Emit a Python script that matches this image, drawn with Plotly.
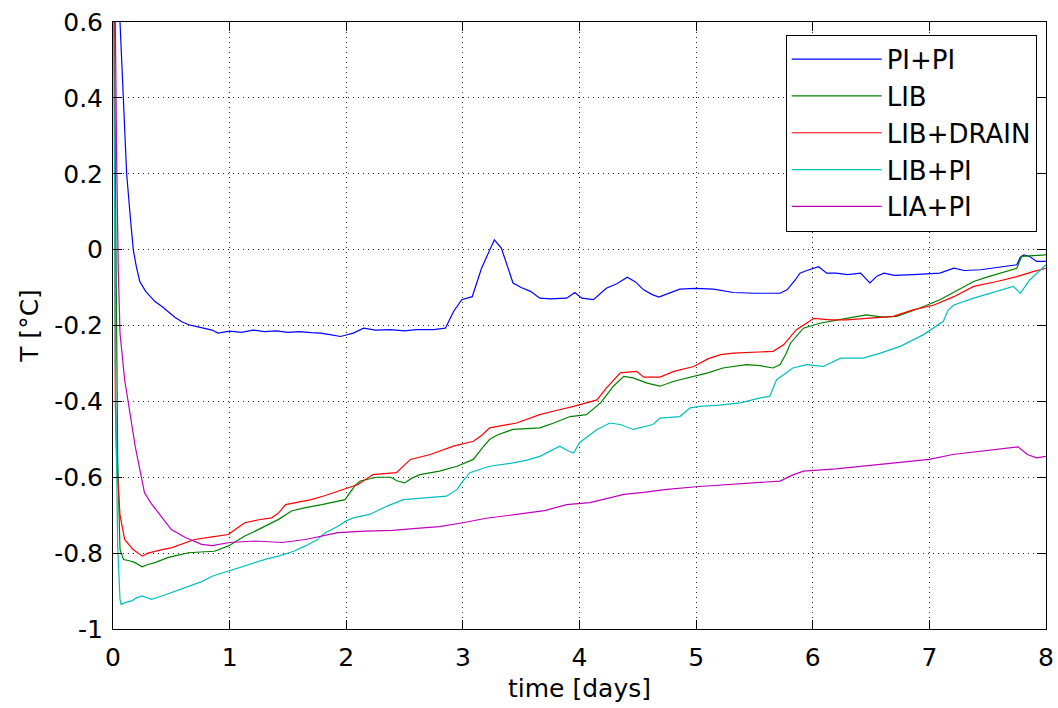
import plotly.graph_objects as go

# (time [days], T [degC])
PI_PI = [(0, 1.2), (0.03, 0.85), (0.06, 0.60), (0.088, 0.40), (0.117, 0.20), (0.15, 0.08), (0.174, 0.0),
         (0.2, -0.045), (0.23, -0.084), (0.28, -0.11), (0.32, -0.125), (0.36, -0.137), (0.42, -0.15),
         (0.47, -0.163), (0.53, -0.178), (0.59, -0.19), (0.65, -0.198), (0.72, -0.203), (0.79, -0.207),
         (0.85, -0.212), (0.90, -0.22), (1.0, -0.215), (1.1, -0.218), (1.2, -0.212), (1.3, -0.216),
         (1.4, -0.214), (1.5, -0.218), (1.6, -0.216), (1.7, -0.219), (1.78, -0.22), (1.86, -0.224),
         (1.95, -0.229), (2.0, -0.225), (2.06, -0.22), (2.15, -0.207), (2.25, -0.212), (2.38, -0.211),
         (2.5, -0.214), (2.6, -0.211), (2.75, -0.211), (2.85, -0.207), (2.92, -0.163), (2.99, -0.132),
         (3.08, -0.124), (3.16, -0.049), (3.22, -0.01), (3.27, 0.026), (3.33, 0.004), (3.38, -0.04),
         (3.43, -0.088), (3.5, -0.10), (3.58, -0.11), (3.66, -0.128), (3.75, -0.13), (3.89, -0.128),
         (3.96, -0.113), (4.02, -0.128), (4.12, -0.132), (4.23, -0.102), (4.32, -0.09), (4.41, -0.073),
         (4.48, -0.085), (4.55, -0.106), (4.62, -0.118), (4.68, -0.125), (4.76, -0.115), (4.86, -0.104),
         (5.0, -0.102), (5.15, -0.104), (5.32, -0.113), (5.5, -0.115), (5.72, -0.115), (5.78, -0.106),
         (5.85, -0.08), (5.89, -0.062), (5.95, -0.055), (6.05, -0.045), (6.12, -0.062), (6.2, -0.062),
         (6.3, -0.066), (6.41, -0.062), (6.49, -0.088), (6.55, -0.07), (6.61, -0.062), (6.7, -0.068),
         (6.86, -0.066), (7.0, -0.064), (7.09, -0.062), (7.21, -0.049), (7.3, -0.055), (7.44, -0.053),
         (7.61, -0.045), (7.75, -0.04), (7.78, -0.02), (7.81, -0.014), (7.86, -0.018), (7.92, -0.031),
         (8.0, -0.031)]

LIB = [(0, 1.0), (0.015, 0.45), (0.025, 0.04), (0.04, -0.55), (0.06, -0.79), (0.09, -0.817), (0.14, -0.82),
       (0.19, -0.825), (0.25, -0.836), (0.30, -0.83), (0.36, -0.825), (0.42, -0.818), (0.47, -0.812),
       (0.55, -0.806), (0.65, -0.799), (0.75, -0.797), (0.87, -0.795), (0.99, -0.781), (1.06, -0.768),
       (1.13, -0.755), (1.2, -0.745), (1.28, -0.733), (1.35, -0.722), (1.42, -0.711), (1.53, -0.689),
       (1.65, -0.68), (1.79, -0.672), (1.9, -0.665), (1.99, -0.659), (2.03, -0.641), (2.08, -0.62),
       (2.12, -0.61), (2.26, -0.60), (2.38, -0.60), (2.44, -0.61), (2.5, -0.615), (2.56, -0.603),
       (2.63, -0.593), (2.8, -0.584), (2.95, -0.571), (3.09, -0.553), (3.16, -0.525), (3.23, -0.50),
       (3.3, -0.488), (3.43, -0.474), (3.55, -0.472), (3.66, -0.47), (3.78, -0.457), (3.92, -0.44),
       (4.06, -0.435), (4.12, -0.42), (4.18, -0.404), (4.24, -0.38), (4.29, -0.36), (4.38, -0.334),
       (4.46, -0.338), (4.58, -0.352), (4.69, -0.36), (4.81, -0.347), (4.98, -0.334), (5.1, -0.325),
       (5.23, -0.312), (5.43, -0.303), (5.55, -0.306), (5.66, -0.312), (5.72, -0.303), (5.77, -0.275),
       (5.81, -0.246), (5.92, -0.207), (6.06, -0.194), (6.18, -0.188), (6.29, -0.181), (6.46, -0.172),
       (6.6, -0.178), (6.72, -0.176), (6.82, -0.165), (6.92, -0.154), (7.09, -0.132), (7.24, -0.106),
       (7.38, -0.084), (7.5, -0.072), (7.61, -0.062), (7.75, -0.049), (7.79, -0.018), (7.89, -0.017),
       (8.0, -0.014)]

LIB_DRAIN = [(0, 1.0), (0.012, 0.6), (0.02, -0.4), (0.03, -0.545), (0.06, -0.70), (0.10, -0.764),
             (0.17, -0.79), (0.25, -0.808), (0.30, -0.80), (0.36, -0.795), (0.43, -0.79), (0.50, -0.786),
             (0.6, -0.775), (0.70, -0.764), (0.85, -0.757), (0.99, -0.751), (1.06, -0.735), (1.13, -0.72),
             (1.25, -0.712), (1.36, -0.707), (1.42, -0.694), (1.48, -0.672), (1.6, -0.665), (1.70, -0.659),
             (1.82, -0.648), (1.93, -0.637), (2.03, -0.628), (2.1, -0.619), (2.23, -0.593), (2.35, -0.59),
             (2.43, -0.588), (2.55, -0.553), (2.72, -0.54), (2.92, -0.518), (3.09, -0.505), (3.16, -0.49),
             (3.23, -0.47), (3.46, -0.457), (3.66, -0.435), (3.80, -0.424), (3.95, -0.413), (4.15, -0.396),
             (4.23, -0.365), (4.35, -0.325), (4.49, -0.321), (4.55, -0.336), (4.69, -0.336), (4.81, -0.321),
             (4.98, -0.308), (5.1, -0.288), (5.21, -0.277), (5.32, -0.273), (5.5, -0.27), (5.66, -0.268),
             (5.75, -0.251), (5.86, -0.211), (6.01, -0.181), (6.15, -0.185), (6.29, -0.185), (6.46, -0.181),
             (6.69, -0.176), (6.86, -0.159), (7.04, -0.146), (7.21, -0.124), (7.38, -0.097), (7.58, -0.084),
             (7.75, -0.071), (7.89, -0.058), (8.0, -0.049)]

LIB_PI = [(0, 1.0), (0.01, 0.45), (0.02, -0.3), (0.04, -0.78), (0.06, -0.922), (0.07, -0.935), (0.11, -0.93),
          (0.16, -0.926), (0.2, -0.918), (0.25, -0.913), (0.33, -0.922), (0.42, -0.913), (0.50, -0.904),
          (0.58, -0.896), (0.67, -0.887), (0.76, -0.875), (0.85, -0.861), (0.99, -0.847), (1.1, -0.836),
          (1.22, -0.825), (1.32, -0.815), (1.42, -0.808), (1.55, -0.795), (1.65, -0.781), (1.75, -0.765),
          (1.82, -0.746), (1.93, -0.729), (2.0, -0.715), (2.06, -0.707), (2.2, -0.698), (2.35, -0.676),
          (2.49, -0.659), (2.69, -0.654), (2.86, -0.65), (2.95, -0.632), (3.0, -0.61), (3.06, -0.588),
          (3.23, -0.571), (3.43, -0.562), (3.55, -0.555), (3.66, -0.545), (3.83, -0.518), (3.9, -0.53),
          (3.95, -0.536), (4.0, -0.509), (4.15, -0.474), (4.26, -0.457), (4.35, -0.461), (4.46, -0.474),
          (4.63, -0.461), (4.69, -0.444), (4.86, -0.44), (4.95, -0.417), (5.03, -0.413), (5.2, -0.41),
          (5.38, -0.404), (5.55, -0.391), (5.63, -0.387), (5.69, -0.343), (5.83, -0.312), (5.95, -0.303),
          (6.09, -0.308), (6.24, -0.286), (6.43, -0.286), (6.58, -0.273), (6.75, -0.255), (6.95, -0.224),
          (7.12, -0.189), (7.16, -0.16), (7.21, -0.146), (7.38, -0.128), (7.61, -0.106), (7.72, -0.097),
          (7.78, -0.115), (7.86, -0.08), (8.0, -0.04)]

LIA_PI = [(0, 1.0), (0.02, 0.6), (0.03, 0.27), (0.045, -0.05), (0.06, -0.22), (0.10, -0.343), (0.145, -0.43),
          (0.19, -0.518), (0.27, -0.641), (0.33, -0.67), (0.39, -0.694), (0.50, -0.738), (0.62, -0.759),
          (0.76, -0.777), (0.85, -0.78), (1.0, -0.772), (1.22, -0.768), (1.45, -0.772), (1.65, -0.764),
          (1.8, -0.755), (1.93, -0.746), (2.16, -0.742), (2.4, -0.74), (2.6, -0.735), (2.8, -0.73),
          (3.0, -0.72), (3.2, -0.708), (3.46, -0.698), (3.7, -0.688), (3.89, -0.672), (4.09, -0.667),
          (4.25, -0.655), (4.38, -0.645), (4.55, -0.64), (4.75, -0.632), (5.0, -0.625), (5.25, -0.62),
          (5.46, -0.615), (5.72, -0.61), (5.82, -0.595), (5.92, -0.584), (6.2, -0.578), (6.43, -0.571),
          (6.7, -0.563), (7.0, -0.553), (7.2, -0.54), (7.44, -0.532), (7.66, -0.525), (7.76, -0.52),
          (7.84, -0.54), (7.92, -0.549), (8.0, -0.545)]

series_names = ["PI+PI", "LIB", "LIB+DRAIN", "LIB+PI", "LIA+PI"]
series_data = [PI_PI, LIB, LIB_DRAIN, LIB_PI, LIA_PI]
series_colors = ["#0000FF", "#008000", "#FF0000", "#00BFBF", "#BF00BF"]

x_ticks = [0, 1, 2, 3, 4, 5, 6, 7, 8]
y_ticks = [-1, -0.8, -0.6, -0.4, -0.2, 0, 0.2, 0.4, 0.6]
y_ticktext = ["-1", "-0.8", "-0.6", "-0.4", "-0.2", "0", "0.2", "0.4", "0.6"]

FONT = "DejaVu Sans"

fig = go.Figure()
for name, data, color in zip(series_names, series_data, series_colors):
    fig.add_trace(go.Scatter(
        x=[p[0] for p in data], y=[p[1] for p in data], name=name, mode="lines",
        line=dict(color=color, width=1.2),
    ))

axis_common = dict(
    showline=True, linecolor="black", linewidth=1, mirror="ticks",
    ticks="inside", ticklen=9, tickcolor="black", tickwidth=1,
    showgrid=True, gridcolor="#222222", gridwidth=1, griddash="1px,4px",
    zeroline=False, tickfont=dict(family=FONT, size=25, color="black"),
)

fig.update_xaxes(
    range=[0, 8], tickvals=x_ticks, ticktext=[str(v) for v in x_ticks],
    title=dict(text="time [days]", font=dict(family=FONT, size=25, color="black"), standoff=8),
    ticklabelstandoff=6, **axis_common,
)
fig.update_yaxes(
    range=[-1, 0.6], tickvals=y_ticks, ticktext=y_ticktext,
    title=dict(text="T [°C]", font=dict(family=FONT, size=25, color="black"), standoff=8),
    ticklabelstandoff=4, **axis_common,
)

fig.update_layout(
    width=1058, height=708,
    margin=dict(l=113, r=12, t=22, b=79, autoexpand=False),
    paper_bgcolor="white", plot_bgcolor="white",
    font=dict(family=FONT, size=25, color="black"),
    showlegend=True,
    legend=dict(
        x=0.990, y=0.979, xanchor="right", yanchor="top",
        bgcolor="white", bordercolor="black", borderwidth=1,
        font=dict(family=FONT, size=26, color="black"),
        itemwidth=90,
    ),
)

fig.write_html("out.html")
